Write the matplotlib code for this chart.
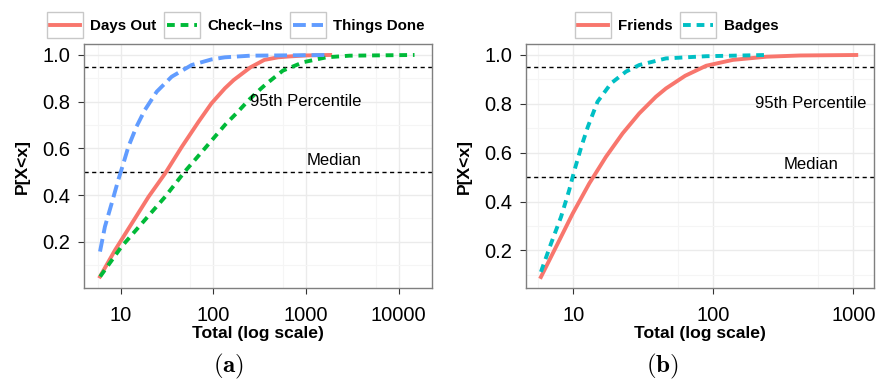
import matplotlib
matplotlib.use("Agg")
import matplotlib.pyplot as plt
from matplotlib.patches import Rectangle
from matplotlib.ticker import FixedLocator, NullFormatter

plt.rcParams['font.family'] = ['Liberation Sans', 'DejaVu Sans']
plt.rcParams['mathtext.fontset'] = 'cm'

# ---- data (a) ----
days_x = [5.98, 8.71, 13.2, 20.0, 30.2, 45.7, 69.2, 95.5, 133, 166, 251, 355, 501, 676, 1000, 1820]
days_y = [0.051, 0.165, 0.279, 0.393, 0.493, 0.607, 0.714, 0.793, 0.857, 0.893, 0.947, 0.979, 0.99, 0.994, 0.998, 1.0]

checkins_x = [6, 10.2, 18.2, 30.2, 49, 81, 133, 182, 245, 324, 372, 562, 933, 1660, 2950, 14800]
checkins_y = [0.051, 0.179, 0.293, 0.393, 0.50, 0.60, 0.70, 0.755, 0.81, 0.855, 0.876, 0.933, 0.969, 0.99, 0.997, 1.0]

things_x = [5.98, 6.76, 8.0, 9.42, 10.7, 12.1, 14.8, 18.2, 24.5, 35.5, 58.3, 95.5, 133, 251, 1820]
things_y = [0.158, 0.265, 0.365, 0.465, 0.536, 0.607, 0.693, 0.764, 0.843, 0.907, 0.957, 0.981, 0.99, 0.997, 1.0]

# ---- data (b) ----
friends_x = [5.87, 7.52, 9.9, 13.0, 17.1, 22.5, 29.6, 38.9, 45.9, 63, 89, 138, 240, 417, 1050]
friends_y = [0.091, 0.214, 0.351, 0.474, 0.583, 0.679, 0.761, 0.829, 0.863, 0.915, 0.956, 0.98, 0.993, 0.998, 1.0]

badges_x = [5.87, 6.93, 8.17, 9.35, 10.2, 11.4, 12.7, 14.9, 18.6, 23.8, 29.6, 45.9, 89, 240]
badges_y = [0.112, 0.228, 0.337, 0.447, 0.529, 0.624, 0.706, 0.809, 0.884, 0.932, 0.959, 0.986, 0.995, 1.0]

median_level = 0.5
pct95_level = 0.95
yticks = [0.2, 0.4, 0.6, 0.8, 1.0]

W, H = 878, 383
fig = plt.figure(figsize=(W / 100, H / 100), dpi=100)

ax1 = fig.add_axes([84 / W, 1 - 288 / H, 348 / W, 244 / H])
ax2 = fig.add_axes([526 / W, 1 - 288 / H, 348 / W, 244 / H])

LW = 2.8


def style_axes(ax, xlim, ylim, xticks, minor_x):
    ax.set_xscale('log')
    ax.set_xlim(*xlim)
    ax.set_ylim(*ylim)
    ax.xaxis.set_major_locator(FixedLocator(xticks))
    ax.xaxis.set_minor_locator(FixedLocator(minor_x))
    ax.xaxis.set_minor_formatter(NullFormatter())
    ax.set_xticklabels([str(t) for t in xticks])
    ax.set_yticks(yticks)
    ax.set_yticklabels(["%.1f" % t for t in yticks])
    ax.yaxis.set_minor_locator(FixedLocator([0.1, 0.3, 0.5, 0.7, 0.9]))
    ax.grid(True, which='major', color='#EBEBEB', lw=1.0, zorder=0)
    ax.grid(True, which='minor', color='#F5F5F5', lw=0.8, zorder=0)
    ax.tick_params(which='major', length=4, width=0.8, color='#333333',
                   labelsize=14.5)
    ax.tick_params(axis='x', which='major', pad=9)
    ax.tick_params(axis='y', which='major', pad=6)
    ax.tick_params(which='minor', length=0)
    for s in ax.spines.values():
        s.set_color('#7F7F7F')
        s.set_linewidth(1.0)
    ax.set_axisbelow(True)
    ax.set_xlabel('Total (log scale)', fontsize=12.6, fontweight='bold', labelpad=1)
    ax.set_ylabel('P[X<x]', fontsize=12.6, fontweight='bold', labelpad=9)
    ax.axhline(median_level, color='black', lw=1.0, dashes=(3, 2.5), zorder=2)
    ax.axhline(pct95_level, color='black', lw=1.0, dashes=(3, 2.5), zorder=2)


style_axes(ax1, (10 ** 0.604, 10 ** 4.359), (0.002, 1.047),
           [10, 100, 1000, 10000], [10 ** (k + 0.75) for k in range(0, 5)])
style_axes(ax2, (10 ** 0.662, 10 ** 3.148), (0.046, 1.045),
           [10, 100, 1000], [10 ** (k + 0.75) for k in range(0, 4)])

# (a)
ax1.plot(days_x, days_y, color='#F8766D', lw=LW, label='Days Out', zorder=3,
         solid_joinstyle='round')
ax1.plot(checkins_x, checkins_y, color='#00BA38', lw=LW, dashes=(2.0, 1.5),
         label='Check\u2013Ins', zorder=3)
ax1.plot(things_x, things_y, color='#619CFF', lw=LW, dashes=(3.3, 1.5),
         label='Things Done', zorder=3)
ax1.text(1000, 0.8, '95th Percentile', fontsize=12, ha='center', va='center')
ax1.text(2000, 0.55, 'Median', fontsize=12, ha='center', va='center')

# (b)
ax2.plot(friends_x, friends_y, color='#F8766D', lw=LW, label='Friends', zorder=3,
         solid_joinstyle='round')
ax2.plot(badges_x, badges_y, color='#00BFC4', lw=LW, dashes=(2.0, 1.5),
         label='Badges', zorder=3)
ax2.text(500, 0.8, '95th Percentile', fontsize=12, ha='center', va='center')
ax2.text(500, 0.55, 'Median', fontsize=12, ha='center', va='center')

legs = []
for ax, x0 in [(ax1, 50), (ax2, 578)]:
    leg = ax.legend(loc='center left', bbox_to_anchor=(x0 / W, 1 - 26 / H),
                    bbox_transform=fig.transFigure, ncol=3, frameon=False,
                    handlelength=2.0, handletextpad=0.67, columnspacing=0.67,
                    borderpad=0, borderaxespad=0,
                    prop={'weight': 'bold', 'size': 10.9})
    legs.append(leg)

fig.text(229 / W, 1 - 381 / H, r'$\mathbf{(a)}$', fontsize=18, ha='center', va='bottom')
fig.text(662 / W, 1 - 381 / H, r'$\mathbf{(b)}$', fontsize=18, ha='center', va='bottom')

# key boxes around legend handles
fig.canvas.draw()
r = fig.canvas.get_renderer()
for leg in legs:
    for ln in leg.get_lines():
        bb = ln.get_window_extent(r)
        cx = (bb.x0 + bb.x1) / 2
        cy = (bb.y0 + bb.y1) / 2
        fig.add_artist(Rectangle(((cx - 18) / W, (cy - 13) / H), 36 / W, 26 / H,
                                 transform=fig.transFigure, facecolor='none',
                                 edgecolor='#C8C8C8', lw=1.0, zorder=1))

fig.savefig('out.png', dpi=100)
